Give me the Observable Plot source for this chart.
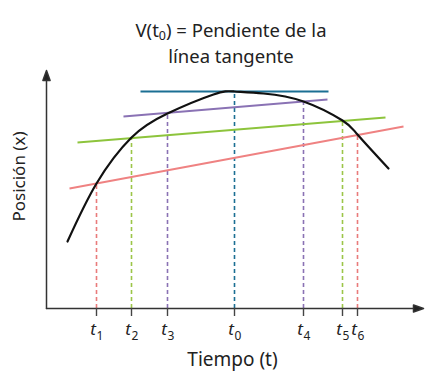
<!DOCTYPE html>
<html>
<head>
<meta charset="utf-8">
<script src="https://cdn.jsdelivr.net/npm/d3@7"></script>
<script src="https://cdn.jsdelivr.net/npm/@observablehq/plot@0.6"></script>
<style>
  html, body { margin: 0; padding: 0; background: #fff; }
  #wrap { width: 435px; height: 376px; overflow: hidden; }
  #title {
    box-sizing: border-box; width: 435px; height: 68px;
    padding-top: 17px; padding-left: 27px;
    font-family: "Noto Sans", sans-serif; font-size: 18.5px; line-height: 25.5px;
    color: #222; text-align: center;
  }
  #title sub { font-size: 12.5px; line-height: 0; vertical-align: -3px; }
  svg { display: block; }
</style>
</head>
<body>
<div id="wrap">
  <div id="title">V(t<sub>0</sub>) = Pendiente de la<br>línea tangente</div>
  <div id="chart"></div>
</div>
<script>
// Axis extents (in picture units: time along x, position along y)
const timeMax = 377;
const positionMax = 238;

// Curve samples: time and position
const curveTime     = [21, 50, 85, 121, 167, 188, 217, 257, 296, 311, 342];
const curvePosition = [67, 125, 171, 195, 214, 217, 215, 207, 188, 174, 140];

// Marked instants
const tickLabels   = ["1", "2", "3", "0", "4", "5", "6"];
const tickTimes    = [50, 85, 121, 188, 257, 296, 311];
const tickPosition = [125, 171, 195, 217, 207, 188, 174];
const tickColors   = ["#e97b7b", "#9cc548", "#8a72b4", "#1b6f93", "#8a72b4", "#9cc548", "#e97b7b"];

// Secant / tangent lines
const secantStartTime = [23, 31, 77, 94];
const secantStartPos  = [120, 166, 192, 217];
const secantEndTime   = [357, 339, 281, 282];
const secantEndPos    = [182, 191, 209, 217];
const secantColors    = ["#ef8282", "#8dc43c", "#8a72b4", "#1b6f93"];

const curve = curveTime.map((t, i) => ({t, x: curvePosition[i]}));
const ticks = tickTimes.map((t, i) => ({t, x: tickPosition[i], label: tickLabels[i], color: tickColors[i]}));
const secants = secantColors.map((c, i) => ({t1: secantStartTime[i], x1: secantStartPos[i], t2: secantEndTime[i], x2: secantEndPos[i], color: c}));

const arrowShape = {
  draw(ctx, l, r) {
    const h = 10, w = 3.6;
    ctx.moveTo(0, 0);
    ctx.lineTo(0, -l + h);
    ctx.moveTo(-w, -l + h);
    ctx.lineTo(0, -l);
    ctx.lineTo(w, -l + h);
    ctx.closePath();
  }
};

const chart = Plot.plot({
  width: 435,
  height: 308,
  marginLeft: 46,
  marginRight: 12,
  marginTop: 2,
  marginBottom: 68,
  x: {domain: [0, timeMax], axis: null},
  y: {domain: [0, positionMax], axis: null},
  color: {type: "identity"},
  style: {fontFamily: "'Noto Sans', sans-serif", background: "white", overflow: "visible", color: "#222"},
  marks: [
    // dashed verticals
    Plot.ruleX(ticks, {x: "t", y1: 0, y2: "x", stroke: "color", strokeWidth: 1.6, strokeDasharray: "4,3"}),
    // secant / tangent lines
    Plot.link(secants, {x1: "t1", y1: "x1", x2: "t2", y2: "x2", stroke: "color", strokeWidth: 1.8}),
    // curve
    Plot.line(curve, {x: "t", y: "x", curve: "natural", stroke: "#111", strokeWidth: 2.2}),
    // axes
    Plot.vector([0], {x: 0, y: 0, length: timeMax, rotate: 90, anchor: "start", shape: arrowShape, stroke: "#333", fill: "#222", strokeWidth: 1.5}),
    Plot.vector([0], {x: 0, y: 0, length: positionMax, rotate: 0, anchor: "start", shape: arrowShape, stroke: "#333", fill: "#222", strokeWidth: 1.5}),
    // tick marks
    Plot.ruleX(ticks, {x: "t", y1: 0, y2: -8, stroke: "#444", strokeWidth: 1.4}),
    // tick labels
    Plot.text(ticks, {x: "t", y: -26, text: () => "t", fontStyle: "italic", fontSize: 17, textAnchor: "end", lineAnchor: "bottom", dx: -0.5, fill: "#222"}),
    Plot.text(ticks, {x: "t", y: -31, text: "label", fontSize: 12, textAnchor: "start", lineAnchor: "bottom", dx: 0, fill: "#222"}),
    // axis labels
    Plot.text(["Tiempo (t)"], {x: 186, y: -57, text: d => d, fontSize: 19, lineAnchor: "bottom", fill: "#222"}),
    Plot.text(["Posición (x)"], {x: -27, y: 132, text: d => d, fontSize: 17, rotate: -90, lineAnchor: "middle", fill: "#222"})
  ]
});
document.getElementById("chart").appendChild(chart);
</script>
</body>
</html>
